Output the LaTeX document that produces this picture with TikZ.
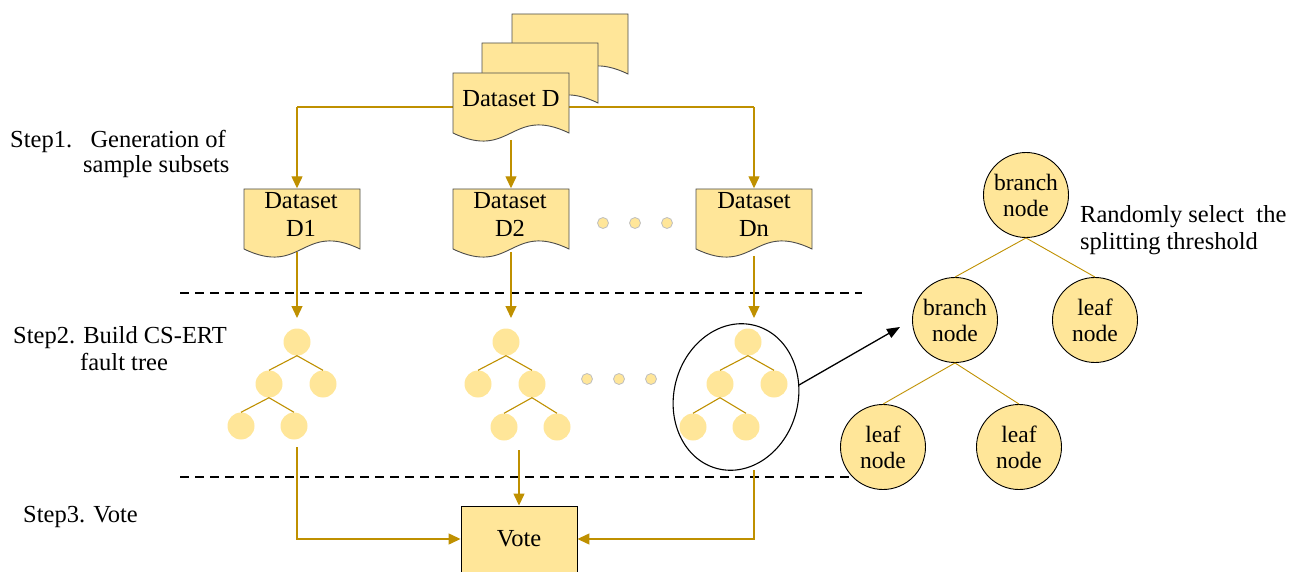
\documentclass[tikz,border=0pt]{standalone}
\usepackage{fontspec}
\setmainfont{Liberation Serif}
\usetikzlibrary{arrows.meta,shapes.geometric}
\definecolor{paleY}{HTML}{FFE699}
\definecolor{gold}{HTML}{BF9000}

% document (wavy-bottom) outline: #1 = x0, #2 = y0 (top-left), width 116, height 62
\newcommand{\docpath}[2]{%
  \path[draw=black!70, line width=0.9pt, fill=paleY]
    (#1,#2) -- ++(116,0) -- ++(0,60)
    .. controls ++(-58,-28) and ++(58,28) .. ++(-116,0) -- cycle;}

\tikzset{
  flow/.style={gold, line width=1.3pt},
  arr/.style={flow, -{Triangle[length=12pt,width=11pt]}},
  twig/.style={gold, line width=1.1pt},
  leafdot/.style={circle, fill=paleY, minimum size=27pt, inner sep=0pt},
  ell/.style={circle, fill=paleY, draw=black!25, line width=0.8pt, minimum size=11pt, inner sep=0pt},
  bignode/.style={circle, draw=black, line width=0.9pt, fill=paleY, minimum size=85pt,
    inner sep=0pt, align=center, font=\fontsize{23.5}{26}\selectfont},
  doctext/.style={align=center, font=\fontsize{24.5}{28}\selectfont, inner sep=0pt},
  lbl/.style={anchor=base west, inner sep=0pt, font=\fontsize{24.5}{28}\selectfont},
  sep/.style={black, line width=1.2pt, dash pattern=on 9pt off 6pt}
}

\begin{document}
\begin{tikzpicture}[x=1pt, y=-1pt]
\useasboundingbox (0,0) rectangle (1291,572);

% ---------- connector anchors around the datasets ----------
\coordinate (dtop) at (511,140);
\coordinate (hl) at (297,107);
\coordinate (hr) at (754,107);

% connectors from Dataset D (drawn first, the documents cover them)
\draw[flow] (hl) -- (hr);
\node[inner sep=0pt] (d1top) at (297,189) {};
\node[inner sep=0pt] (d2top) at (511,189) {};
\node[inner sep=0pt] (dntop) at (754,189) {};
\draw[arr] (hl) -- (d1top);
\draw[arr] (dtop) -- (d2top);
\draw[arr] (hr) -- (dntop);

% ---------- Dataset D stack ----------
\docpath{512}{14}
\docpath{482}{43}
\docpath{453}{73}
\node[doctext] (dsD) at (511,99) {Dataset D};

% ---------- subsets ----------
\docpath{244}{189}
\node[doctext] (ds1) at (301,215) {Dataset\\D1};
\docpath{453}{189}
\node[doctext] (ds2) at (510,215) {Dataset\\D2};
\docpath{696}{189}
\node[doctext] (dsn) at (754,215) {Dataset\\Dn};

\node[ell] (e1) at (603,223) {};
\node[ell] (e2) at (635,223) {};
\node[ell] (e3) at (667,223) {};

% ---------- separators ----------
\draw[sep] (180,293) -- (862,293);
\draw[sep] (180,477) -- (862,477);

% ---------- tree 1 ----------
\node[leafdot] (a0) at (297,342) {};
\node[leafdot] (a1) at (269,384) {};
\node[leafdot] (a2) at (323,384) {};
\node[leafdot] (a3) at (241,426) {};
\node[leafdot] (a4) at (294,426) {};
\draw[twig] (a0.south) -- (a1.north);
\draw[twig] (a0.south) -- (a2.north);
\draw[twig] (a1.south) -- (a3.north);
\draw[twig] (a1.south) -- (a4.north);

% ---------- tree 2 ----------
\node[leafdot] (b0) at (506,342) {};
\node[leafdot] (b1) at (478,384) {};
\node[leafdot] (b2) at (532,384) {};
\node[leafdot] (b3) at (504,427) {};
\node[leafdot] (b4) at (557,427) {};
\draw[twig] (b0.south) -- (b1.north);
\draw[twig] (b0.south) -- (b2.north);
\draw[twig] (b2.south) -- (b3.north);
\draw[twig] (b2.south) -- (b4.north);

\node[ell] (f1) at (587,379) {};
\node[ell] (f2) at (619,379) {};
\node[ell] (f3) at (651,379) {};

% ---------- tree n ----------
\node[leafdot] (c0) at (748,342) {};
\node[leafdot] (c1) at (720,384) {};
\node[leafdot] (c2) at (774,384) {};
\node[leafdot] (c3) at (693,427) {};
\node[leafdot] (c4) at (746,427) {};
\draw[twig] (c0.south) -- (c1.north);
\draw[twig] (c0.south) -- (c2.north);
\draw[twig] (c1.south) -- (c3.north);
\draw[twig] (c1.south) -- (c4.north);
\node[ellipse, draw=black, line width=1.1pt, minimum width=124pt, minimum height=148pt,
      inner sep=0pt, rotate=-15] (zoomring) at (736,397) {};

% step-1 to step-2 arrows
\coordinate (s1) at (297,252);
\coordinate (s2) at (511,252);
\coordinate (sn) at (754,256);
\coordinate (t1) at (297,318);
\coordinate (t2) at (511,318);
\coordinate (tn) at (754,318);
\draw[arr] (s1) -- (t1);
\draw[arr] (s2) -- (t2);
\draw[arr] (sn) -- (tn);

% ---------- vote ----------
\node[draw=black, line width=0.9pt, fill=paleY, minimum width=116pt, minimum height=66pt,
      inner sep=0pt, font=\fontsize{24.5}{28}\selectfont] (vote) at (519,539) {Vote};
\coordinate (u1) at (297,447);
\coordinate (u2) at (519,450);
\coordinate (un) at (754,470);
\draw[arr] (u1) |- (vote.west);
\draw[arr] (u2) -- (vote.north);
\draw[arr] (un) |- (vote.east);

% ---------- enlarged tree ----------
\node[bignode] (r0) at (1026,195) {branch\\node};
\node[bignode] (r1) at (955,320) {branch\\node};
\node[bignode] (r2) at (1095,320) {leaf\\node};
\node[bignode] (r3) at (883,447) {leaf\\node};
\node[bignode] (r4) at (1019,447) {leaf\\node};
\draw[gold, line width=0.9pt] (r0.south) -- (r1.north);
\draw[gold, line width=0.9pt] (r0.south) -- (r2.north);
\draw[gold, line width=0.9pt] (r1.south) -- (r3.north);
\draw[gold, line width=0.9pt] (r1.south) -- (r4.north);

\coordinate (zt) at (799,385);
\coordinate (zh) at (900,327);
\draw[black, line width=1.3pt, -{Triangle[length=13pt,width=10pt]}] (zt) -- (zh);

\node[lbl] (rs1) at (1080,223) {Randomly select\ \ the};
\node[lbl] (rs2) at (1080,250) {splitting threshold};

% ---------- step labels ----------
\node[lbl] (st1) at (10,148) {Step1.\hspace{0.75em}Generation of};
\node[lbl] (st1b) at (83,173) {sample subsets};
\node[lbl] (st2) at (13,343) {Step2. Build CS-ERT};
\node[lbl] (st2b) at (80,370) {fault tree};
\node[lbl] (st3) at (23,522) {Step3. Vote};
\end{tikzpicture}
\end{document}
